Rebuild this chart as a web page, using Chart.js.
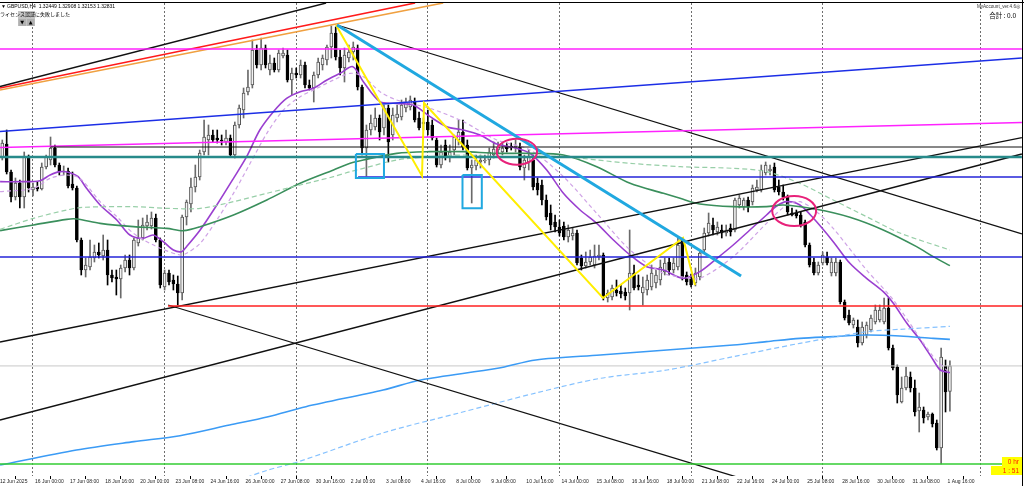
<!DOCTYPE html>
<html><head><meta charset="utf-8">
<script src="https://cdn.jsdelivr.net/npm/chart.js@4.4.1/dist/chart.umd.min.js"></script>
<style>html,body{margin:0;padding:0;background:#fff;overflow:hidden}canvas{display:block}</style>
</head><body>
<canvas id="c" width="1024" height="486"></canvas>
<script>
// ---------- DATA (GBPUSD H4, bar index 0 = 16 Jun 00:00) ----------
const firstBar = -7;
const opens = [
1.35965,1.3616,1.3574,1.35365,1.35575,1.35365,1.35965,1.3547,1.35515,1.35485,
1.35815,1.3592,1.361,1.35845,1.3574,1.35755,1.3556,1.355,1.3472,1.3427,
1.34315,1.3445,1.3454,1.3448,1.3457,1.34195,1.34165,1.34135,1.343,1.3442,
1.343,1.34675,1.3475,1.3493,1.3493,1.3505,1.3472,1.34015,1.34225,1.3412,
1.3406,1.33925,1.35065,1.3526,1.35515,1.35665,1.3604,1.3622,1.36295,1.3625,
1.3622,1.3619,1.3625,1.35995,1.36445,1.3667,1.3694,1.37045,1.3757,1.37345,
1.376,1.3727,1.37375,1.3727,1.3748,1.37495,1.3712,1.37225,1.37195,1.37345,
1.37045,1.370,1.37195,1.37345,1.3742,1.37615,1.37825,1.37465,1.373,1.3745,
1.3754,1.376,1.37015,1.361,1.3637,1.36415,1.3655,1.364,1.367,1.36295,
1.3655,1.36565,1.367,1.36715,1.3679,1.3655,1.3646,1.3649,1.36445,1.3622,
1.35845,1.36145,1.35965,1.3607,1.3622,1.3634,1.36145,1.358,1.3583,1.3589,
1.35905,1.3592,1.35995,1.3607,1.3604,1.36115,1.3613,1.361,1.36115,1.358,
1.3589,1.3592,1.35575,1.35545,1.3532,1.35125,1.3499,1.34915,1.3493,1.34765,
1.3478,1.34825,1.3445,1.3433,1.3439,1.34345,1.34465,1.34495,1.3385,1.33865,
1.3397,1.33955,1.3394,1.33925,1.34225,1.34045,1.33925,1.3397,1.34015,1.34075,
1.3412,1.3424,1.3439,1.3427,1.34315,1.3472,1.34195,1.3415,1.34075,1.34165,
1.3457,1.34825,1.34945,1.3484,1.3487,1.34825,1.349,1.3487,1.35245,1.35215,
1.3532,1.3529,1.3547,1.3547,1.35725,1.35755,1.35815,1.35515,1.3544,1.35365,
1.35125,1.35125,1.35095,1.3499,1.34645,1.3439,1.34225,1.34375,1.34465,1.34225,
1.34225,1.3439,1.3379,1.33595,1.33445,1.33415,1.33175,1.33295,1.3337,1.3349,
1.3352,1.3349,1.337,1.331,1.32815,1.3229,1.325,1.32665,1.325,1.32155,
1.3217,1.32065,1.3211,1.31975,1.316,1.3283,1.32449];
const highs = [
1.3622,1.3637,1.3577,1.3565,1.3562,1.3604,1.35995,1.35575,1.3559,1.35875,
1.35995,1.36265,1.36145,1.35875,1.3583,1.358,1.3574,1.3553,1.3475,1.3445,
1.3472,1.34645,1.34675,1.34795,1.3472,1.3427,1.3427,1.34345,1.34495,1.34495,
1.3475,1.3502,1.3505,1.35095,1.3514,1.3511,1.3475,1.3427,1.3427,1.34195,
1.3418,1.35095,1.3532,1.3565,1.35845,1.3607,1.3652,1.36445,1.3637,1.3637,
1.36295,1.3637,1.36295,1.3649,1.36745,1.370,1.3727,1.3772,1.37645,1.3775,
1.37645,1.37495,1.3745,1.3757,1.376,1.3757,1.373,1.373,1.3742,1.3739,
1.3712,1.3724,1.3745,1.37495,1.37645,1.3793,1.37915,1.3757,1.376,1.37645,
1.3769,1.37645,1.37045,1.36445,1.36595,1.367,1.36595,1.36745,1.36745,1.367,
1.36745,1.3682,1.3685,1.3688,1.3685,1.3664,1.3655,1.3667,1.3652,1.3625,
1.36145,1.3622,1.36145,1.36295,1.3652,1.3652,1.3622,1.3592,1.35995,1.35995,
1.35995,1.361,1.3619,1.3619,1.36175,1.36175,1.36175,1.3622,1.36175,1.35995,
1.3607,1.35995,1.3565,1.3562,1.35395,1.35245,1.35095,1.3502,1.3499,1.34945,
1.349,1.3487,1.34495,1.3454,1.3457,1.34645,1.34645,1.34525,1.3397,1.34045,
1.3412,1.34045,1.340,1.3487,1.34345,1.34195,1.34165,1.34195,1.34345,1.3427,
1.3442,1.3445,1.3445,1.3445,1.3475,1.3475,1.3424,1.3421,1.343,1.3457,
1.349,1.35125,1.3505,1.3499,1.34945,1.34945,1.3496,1.3535,1.35395,1.3535,
1.35365,1.35545,1.3562,1.35845,1.3589,1.35845,1.35875,1.3562,1.35545,1.35395,
1.352,1.3517,1.3514,1.3502,1.34675,1.3445,1.3439,1.3454,1.3454,1.3445,
1.3445,1.3442,1.3382,1.3367,1.3355,1.3352,1.3349,1.3349,1.33595,1.33745,
1.33745,1.3385,1.3385,1.33145,1.32845,1.32665,1.32815,1.3274,1.3262,1.32425,
1.32215,1.3214,1.32125,1.3202,1.331,1.3292,1.32908];
const lows = [
1.3592,1.3571,1.3529,1.3532,1.352,1.352,1.3544,1.3538,1.35455,1.3547,
1.35785,1.35845,1.35815,1.35695,1.35695,1.355,1.3547,1.3469,1.34195,1.34165,
1.3427,1.3439,1.3445,1.3442,1.34045,1.3409,1.33895,1.3385,1.3424,1.34195,
1.3427,1.3463,1.3472,1.3487,1.34885,1.3469,1.340,1.3397,1.34045,1.3397,
1.33745,1.3382,1.34945,1.3514,1.3544,1.3562,1.35995,1.35995,1.3619,1.36175,
1.36145,1.36145,1.35965,1.3595,1.364,1.3655,1.36895,1.370,1.373,1.3727,
1.373,1.37195,1.3724,1.3724,1.3745,1.3709,1.36895,1.3715,1.3715,1.370,
1.3697,1.3679,1.3715,1.3727,1.37345,1.3745,1.3742,1.37195,1.3709,1.3739,
1.3742,1.3697,1.35995,1.3568,1.36295,1.3637,1.3622,1.36295,1.3589,1.3622,
1.3649,1.3652,1.3664,1.3667,1.3649,1.3637,1.3637,1.36295,1.3622,1.35815,
1.358,1.3592,1.3589,1.35995,1.36145,1.3607,1.3577,1.35275,1.3577,1.358,
1.35875,1.35845,1.3595,1.36025,1.35995,1.3604,1.3607,1.3604,1.3577,1.3562,
1.3577,1.3547,1.35395,1.35245,1.3502,1.3487,1.3484,1.3478,1.3472,1.3469,
1.3472,1.34345,1.3427,1.343,1.34345,1.343,1.3442,1.3382,1.3379,1.3382,
1.3388,1.3385,1.3382,1.3367,1.3397,1.3397,1.33745,1.33895,1.3397,1.340,
1.34045,1.34195,1.34195,1.34225,1.3427,1.3412,1.34045,1.34015,1.3403,1.3412,
1.3454,1.3478,1.34795,1.34795,1.3475,1.3478,1.3478,1.3484,1.352,1.3517,
1.3514,1.35245,1.3544,1.3544,1.35695,1.35695,1.3544,1.35395,1.3532,1.35095,
1.3508,1.3505,1.34915,1.34615,1.34315,1.34195,1.34195,1.34345,1.34345,1.3418,
1.3418,1.3376,1.3352,1.33445,1.334,1.33115,1.33145,1.3325,1.3334,1.3346,
1.3349,1.3346,1.3307,1.3277,1.32275,1.32275,1.3247,1.3244,1.3208,1.3184,
1.31975,1.3202,1.31915,1.3157,1.3136,1.3214,1.32153];
const closes = [
1.36175,1.3574,1.35365,1.35575,1.35365,1.35965,1.355,1.35515,1.35485,1.35815,
1.35965,1.361,1.35845,1.3574,1.35755,1.3553,1.355,1.3472,1.3427,1.34345,
1.34465,1.3454,1.34495,1.3457,1.34195,1.3415,1.34135,1.343,1.3442,1.343,
1.3472,1.3475,1.34945,1.3499,1.3505,1.3472,1.34045,1.34225,1.3409,1.3406,
1.33925,1.35065,1.3529,1.35515,1.35665,1.36025,1.36265,1.36295,1.3622,1.3622,
1.36205,1.3625,1.35995,1.36445,1.3670,1.36925,1.37015,1.3757,1.37345,1.376,
1.37345,1.37375,1.3727,1.37525,1.37525,1.3712,1.37225,1.37195,1.37345,1.37045,
1.370,1.37195,1.3739,1.3745,1.37615,1.37825,1.37465,1.373,1.37495,1.3754,
1.37615,1.37015,1.361,1.3637,1.36475,1.3655,1.3634,1.367,1.3619,1.36595,
1.3661,1.36745,1.36775,1.3682,1.3652,1.364,1.3649,1.3637,1.3625,1.35845,
1.3604,1.35965,1.3604,1.36265,1.3634,1.36115,1.358,1.35845,1.3592,1.3592,
1.3592,1.3604,1.36085,1.36115,1.361,1.36085,1.361,1.3613,1.35815,1.3592,
1.35965,1.35515,1.3547,1.3532,1.35065,1.34945,1.34915,1.34825,1.34765,1.3487,
1.34825,1.34375,1.3433,1.3439,1.34465,1.3448,1.34495,1.3385,1.33925,1.340,
1.33925,1.3391,1.3388,1.34225,1.340,1.34015,1.34015,1.3412,1.34225,1.34195,
1.34315,1.34375,1.3427,1.34375,1.34645,1.34165,1.3409,1.34045,1.34225,1.34525,
1.34825,1.34975,1.3487,1.34915,1.34825,1.3487,1.3484,1.3532,1.3535,1.3532,
1.35215,1.355,1.35515,1.3577,1.35845,1.35785,1.3547,1.3544,1.35365,1.3514,
1.35095,1.3508,1.34945,1.34645,1.34345,1.34225,1.34345,1.34495,1.34375,1.3439,
1.3439,1.3379,1.3355,1.33475,1.3352,1.33175,1.33415,1.33445,1.3355,1.3367,
1.3367,1.337,1.331,1.328,1.32395,1.325,1.3268,1.325,1.3214,1.32215,
1.3205,1.3211,1.3196,1.316,1.32965,1.3244,1.32831];

const tickBars = [-8,0,8,16,24,32,40,48,56,64,72,80,88,96,104,112,120,128,136,144,152,160,168,176,184,192,200,208];
const tickLabels = ['12 Jun 2025','16 Jun 00:00','17 Jun 08:00','18 Jun 16:00','20 Jun 00:00','23 Jun 08:00','24 Jun 16:00','26 Jun 00:00','27 Jun 08:00','30 Jun 16:00','2 Jul 00:00','3 Jul 08:00','4 Jul 16:00','8 Jul 00:00','9 Jul 08:00','10 Jul 16:00','14 Jul 00:00','15 Jul 08:00','16 Jul 16:00','18 Jul 00:00','21 Jul 08:00','22 Jul 16:00','24 Jul 00:00','25 Jul 08:00','28 Jul 16:00','30 Jul 00:00','31 Jul 08:00','1 Aug 16:00'];
const gridBars = [0,30,60,90,120,150,180,216];

// moving averages [bar, price]
const maPurple = [[-7.5,1.35595],[-3,1.35595],[1.6,1.3561],[3.9,1.35695],[6.2,1.35745],[8.4,1.3573],[10.3,1.3567],[12.2,1.35495],[15.3,1.35245],[19.1,1.3502],[22.1,1.34795],[25.1,1.34745],[27.4,1.34795],[29.7,1.34695],[32,1.3457],[33.9,1.34545],[35,1.3462],[38.1,1.3487],[41.9,1.35245],[45.7,1.35645],[48.7,1.3597],[51.7,1.3637],[54.8,1.36645],[57.8,1.36845],[60.9,1.36945],[63.9,1.36995],[67,1.3712],[70,1.3722],[72.9,1.3732],[75.3,1.37095],[79.1,1.36795],[82.9,1.3677],[86.7,1.36745],[90.5,1.3657],[94.3,1.3642],[98.1,1.3637],[101.9,1.36295],[105.7,1.3616],[110.3,1.36095],[113.3,1.3602],[117.1,1.3577],[120.9,1.3542],[124.7,1.3517],[128.5,1.3497],[132.3,1.3472],[136.1,1.34495],[139.9,1.3432],[143.7,1.3427],[148.2,1.34145],[152,1.34245],[155.9,1.34445],[159.6,1.34645],[163.4,1.3487],[167.2,1.35095],[169.5,1.3523],[171.8,1.35295],[174.8,1.35245],[177.9,1.35045],[182.4,1.34695],[186.2,1.3437],[190,1.34145],[193.8,1.33945],[196.1,1.3377],[199.2,1.3347],[202.2,1.3322],[205.2,1.3292],[206.8,1.3277],[209,1.3273]];
const maPurpleSlow = [[-7.5,1.35445],[0.1,1.35495],[3.9,1.35645],[7.7,1.35695],[10.7,1.35645],[15.3,1.35295],[19.1,1.3507],[22.9,1.3482],[28.2,1.3462],[33.5,1.34495],[35,1.3452],[38.1,1.3467],[41.9,1.3502],[45.7,1.3542],[49.5,1.3587],[53.3,1.3632],[57.1,1.3667],[60.9,1.3687],[64.7,1.36995],[68.5,1.3712],[72.3,1.3722],[75.3,1.3717],[79.1,1.36945],[82.9,1.3682],[90.5,1.36695],[98.1,1.36495],[105.7,1.3622],[113.3,1.3607],[120.9,1.3567],[128.5,1.3512],[136.1,1.3457],[143.7,1.3422],[148.2,1.34165],[152,1.34145],[159.6,1.3447],[167.2,1.3497],[171.8,1.35245],[174.8,1.35295],[178.6,1.35145],[182.4,1.34895],[190,1.3427],[196.1,1.3382],[205.2,1.3297],[209,1.3272]];
const maGreen = [[-7.5,1.3486],[0.1,1.34945],[7.7,1.3503],[10,1.35035],[15.3,1.3497],[22.9,1.3492],[30.5,1.34895],[34.3,1.3486],[38.1,1.3492],[45.7,1.35095],[53.3,1.3532],[60.9,1.3557],[68.5,1.3577],[72.3,1.3587],[75.3,1.3592],[82.9,1.3602],[90.5,1.36045],[98.1,1.36045],[105.7,1.3602],[113.3,1.3602],[120.9,1.35995],[128.5,1.3582],[136.1,1.3557],[143.7,1.3542],[147.5,1.35345],[152,1.3526],[159.6,1.3522],[167.2,1.3522],[171,1.35245],[178.6,1.3518],[186.2,1.3506],[193.8,1.3487],[201.4,1.3462],[205.2,1.3447],[209,1.34335]];
const maGreenSlow = [[-7.5,1.3488],[0.1,1.35045],[7.7,1.3517],[11.5,1.3521],[22.9,1.3522],[30.5,1.35195],[38.1,1.35195],[45.7,1.35295],[53.3,1.3542],[60.9,1.35545],[68.5,1.3567],[72.3,1.35745],[75.3,1.35795],[82.9,1.3592],[90.5,1.3597],[98.1,1.35995],[105.7,1.3597],[113.3,1.3597],[120.9,1.3597],[128.5,1.3592],[136.1,1.3587],[147.5,1.3582],[159.6,1.35795],[167.2,1.35745],[174.8,1.3557],[182.4,1.3532],[190,1.3507],[197.6,1.34825],[209,1.3457]];
const maBlue = [[-7.5,1.31345],[9.9,1.3157],[23,1.31695],[33.5,1.31785],[44.8,1.31945],[53.6,1.3207],[62.2,1.3222],[79.8,1.3247],[88.4,1.3262],[105.9,1.32795],[114.6,1.3292],[129.3,1.32995],[144.5,1.3307],[159.6,1.33145],[167.2,1.33195],[174.8,1.33245],[182.4,1.3327],[190,1.33295],[197.6,1.3328],[205.2,1.33245],[209,1.3323]];
const maBlueSlow = [[47,1.3112],[53.6,1.3127],[60.5,1.31395],[79.7,1.31825],[97.1,1.32125],[114.6,1.32425],[129.3,1.32645],[144.5,1.3277],[159.6,1.3297],[174.8,1.3317],[190,1.33345],[197.6,1.3338],[209,1.33425]];

// drawn objects [bar, price]
const blackChannelTop = [[-7.52,1.37023],[66.8,1.38275]];
const redChannel = [[-7.52,1.3700],[87.1,1.38275]];
const orangeChannel = [[-7.52,1.3697],[93.5,1.38275]];
const magentaLevel = [[-7.52,1.37585],[225.4,1.37585]];
const blueSlope = [[-7.52,1.36348],[225.4,1.3745]];
const magentaSlope = [[-7.52,1.36108],[225.4,1.36483]];
const blackLevel = [[4,1.36115],[225.4,1.36115]];
const tealLevel = [[-7.52,1.35965],[225.4,1.35965]];
const blueLevelHigh = [[74.1,1.35665],[225.4,1.35665]];
const blueLevelLow = [[-7.52,1.34465],[225.4,1.34465]];
const redLevel = [[30.8,1.3373],[225.4,1.3373]];
const greenLevel = [[-7.52,1.3136],[225.4,1.3136]];
const bidLevel = [[-7.52,1.32831],[225.4,1.32831]];
const blackFall1 = [[69.3,1.37945],[225.4,1.3481]];
const blackRiseA = [[-7.52,1.3319],[225.4,1.36256]];
const blackRiseB = [[-7.52,1.3202],[225.4,1.3601]];
const blackFall2 = [[30.8,1.33745],[161.2,1.3115]];
const cyanTrend = [[69.3,1.37945],[161.4,1.3418]];
const yellowWave = [[69.07,1.37945],[88.67,1.3568],[89.13,1.36775],[129.93,1.3385],[148.17,1.3475],[150.9,1.34045]];
const cyanBoxes = [[73.6,80.0,1.3601,1.3565],[97.9,102.3,1.35695,1.35195]]; // x1,x2,yTop,yBottom
const ellipseCenters = [[110.3,1.36045],[173.5,1.35155]];
const ellipseRadii = [[4.6,0.00195],[5.0,0.00225]];

// ---------- BUILD ----------
const X_MIN = -7.52, X_MAX = 225.43, Y_MIN = 1.3118, Y_MAX = 1.38275;
const barIdx = opens.map((_, k) => firstBar + k);
const isBull = opens.map((o, k) => closes[k] >= o);
const pts = arr => arr.map(p => ({x: p[0], y: p[1]}));
const line = (arr, color, width, dash, order, tension) => ({
  type: 'line', data: pts(arr), borderColor: color, borderWidth: width, borderDash: dash || [],
  pointRadius: 0, fill: false, tension: tension || 0, order: order, xAxisID: 'x', yAxisID: 'y'
});
const boxData = b => [[b[0], b[2]], [b[1], b[2]], [b[1], b[3]], [b[0], b[3]], [b[0], b[2]]];

const datasets = [
  {type: 'bar', data: barIdx.map((x, k) => ({x, y: [lows[k], highs[k]]})), barThickness: 1, grouped: false,
   backgroundColor: isBull.map(b => b ? '#6a6a6a' : '#000'), borderWidth: 0, order: 30, xAxisID: 'x', yAxisID: 'y'},
  {type: 'bar', data: barIdx.map((x, k) => ({x, y: [Math.min(opens[k], closes[k]), Math.max(opens[k], closes[k])]})),
   barThickness: 3, grouped: false, minBarLength: 1, borderSkipped: false,
   backgroundColor: isBull.map(b => b ? '#f2f2f2' : '#000'), borderColor: isBull.map(b => b ? '#555' : '#000'),
   borderWidth: 1, order: 29, xAxisID: 'x', yAxisID: 'y'},
  line(bidLevel, '#c8c8c8', 1, null, 25),
  line(maBlueSlow, '#86c2ff', 1.2, [5, 3], 20, 0.3),
  line(maBlue, '#3b9bf5', 1.6, null, 20, 0.3),
  line(maGreenSlow, '#98cfa8', 1.2, [5, 3], 20, 0.3),
  line(maGreen, '#3a8f5c', 1.6, null, 20, 0.3),
  line(maPurpleSlow, '#cfa3e6', 1.2, [4, 3], 20, 0.3),
  line(maPurple, '#9a3fd0', 1.6, null, 20, 0.3),
  line(tealLevel, '#278a8a', 2.5, null, 10),
  line(blackLevel, '#111', 1, null, 10),
  line(magentaLevel, '#ff22ff', 1.3, null, 10),
  line(magentaSlope, '#ff22ff', 1.5, null, 10),
  line(blueSlope, '#1c2ee6', 1.6, null, 10),
  line(blueLevelHigh, '#2424d8', 1.4, null, 10),
  line(blueLevelLow, '#2424d8', 1.4, null, 10),
  line(redLevel, '#ff2020', 1.5, null, 10),
  line(greenLevel, '#33cc33', 1.6, null, 10),
  line(blackChannelTop, '#111', 1.4, null, 10),
  line(redChannel, '#ff1a1a', 1.6, null, 10),
  line(orangeChannel, '#f0a040', 1.6, null, 10),
  line(blackFall1, '#111', 1.3, null, 10),
  line(blackRiseA, '#111', 1.3, null, 10),
  line(blackRiseB, '#111', 1.3, null, 10),
  line(blackFall2, '#111', 1.3, null, 10),
  line(cyanTrend, '#20a8e0', 3, null, 5),
  line(yellowWave, '#ffee00', 2, null, 5),
  line(boxData(cyanBoxes[0]), '#20a8e0', 2, null, 5),
  line(boxData(cyanBoxes[1]), '#20a8e0', 2, null, 5)
];

const decorPlugin = {
  id: 'decor',
  beforeDraw(chart) {
    const c = chart.ctx; c.save(); c.fillStyle = '#fff'; c.fillRect(0, 0, chart.width, chart.height); c.restore();
  },
  afterDatasetsDraw(chart) {
    const c = chart.ctx, xs = chart.scales.x, ys = chart.scales.y, a = chart.chartArea;
    c.save();
    c.beginPath(); c.rect(a.left, a.top, a.right - a.left, a.bottom - a.top); c.clip();
    c.strokeStyle = '#e8217a'; c.lineWidth = 2;
    ellipseCenters.forEach((e, k) => {
      const cx = xs.getPixelForValue(e[0]), cy = ys.getPixelForValue(e[1]);
      const rx = xs.getPixelForValue(e[0] + ellipseRadii[k][0]) - cx;
      const ry = cy - ys.getPixelForValue(e[1] + ellipseRadii[k][1]);
      c.beginPath(); c.ellipse(cx, cy, rx, ry, 0, 0, Math.PI * 2); c.stroke();
    });
    c.restore();
  },
  afterDraw(chart) {
    const c = chart.ctx, a = chart.chartArea;
    c.save();
    // frame
    c.strokeStyle = '#000'; c.lineWidth = 1;
    c.beginPath(); c.moveTo(0, a.top - 0.5); c.lineTo(chart.width, a.top - 0.5); c.stroke();
    c.beginPath(); c.moveTo(a.right + 0.5, 0); c.lineTo(a.right + 0.5, chart.height); c.stroke();
    // top-left info
    c.fillStyle = '#000'; c.textBaseline = 'middle';
    c.font = '5px "Liberation Sans"';
    c.fillText('\u25BC', 1, 6.5);
    c.fillText('GBPUSD,H4  1.32449 1.32908 1.32153 1.32831', 7, 6.5);
    c.fillStyle = '#c4c4c4'; c.fillRect(18, 11, 17, 15);
    c.fillStyle = '#000'; c.font = '5px "Noto Sans CJK JP"';
    c.fillText('ライセンス認証に失敗しました', 0, 14.5);
    c.fillStyle = '#b0b0b0'; c.fillRect(18.5, 19, 7.5, 7); c.fillRect(27, 19, 7.5, 7);
    c.fillStyle = '#000'; c.font = '5px "DejaVu Sans"'; c.textAlign = 'center';
    c.fillText('\u25BC', 22.2, 22.7); c.fillText('\u25B2', 30.7, 22.7);
    // top-right
    c.textAlign = 'right'; c.fillStyle = '#333';
    c.font = '4.6px "Liberation Sans"'; c.fillText('MyAccount_ver.4.6\u25CE', 1020, 6.8);
    c.font = '6.5px "Noto Sans CJK JP"'; c.fillStyle = '#000'; c.fillText('合計 : 0.0', 1016, 16);
    // bottom-right timer
    c.fillStyle = '#ffff00'; c.fillRect(1002, 457, 20, 9); c.fillRect(991, 466, 31, 9);
    c.fillStyle = '#ff1a00'; c.font = '6.5px "Liberation Sans"';
    c.fillText('0 hr', 1019, 461.8); c.fillText('1 : 51', 1019, 470.8);
    c.restore();
  }
};

new Chart(document.getElementById('c'), {
  type: 'line',
  data: {datasets},
  options: {
    responsive: false, animation: false, events: [],
    layout: {padding: {top: 3, right: 2, left: 0, bottom: 0}},
    plugins: {legend: {display: false}, tooltip: {enabled: false}},
    scales: {
      x: {
        type: 'linear', position: 'bottom', min: X_MIN, max: X_MAX, offset: false,
        afterBuildTicks: s => { s.ticks = tickBars.map(v => ({value: v})); },
        afterFit: s => { s.height = 10; s.paddingLeft = 0; s.paddingRight = 0; },
        ticks: {autoSkip: false, maxRotation: 0, minRotation: 0, align: 'start', labelOffset: 2, padding: 0,
          color: '#222', font: {family: 'Liberation Sans', size: 5, lineHeight: 1},
          callback: v => tickLabels[tickBars.indexOf(v)] || ''},
        grid: {drawOnChartArea: false, drawTicks: true, tickLength: 3, color: '#000', lineWidth: 1},
        border: {display: false}
      },
      xg: {
        type: 'linear', position: 'bottom', min: X_MIN, max: X_MAX, offset: false,
        afterBuildTicks: s => { s.ticks = gridBars.map(v => ({value: v})); },
        afterFit: s => { s.height = 0; s.paddingLeft = 0; s.paddingRight = 0; },
        ticks: {display: false},
        grid: {display: true, drawOnChartArea: true, drawTicks: false, color: '#6e6e6e', lineWidth: 1},
        border: {display: true, width: 0, color: 'rgba(0,0,0,0)', dash: [2, 2]}
      },
      y: {type: 'linear', display: false, min: Y_MIN, max: Y_MAX}
    }
  },
  plugins: [decorPlugin]
});
</script>
</body></html>
